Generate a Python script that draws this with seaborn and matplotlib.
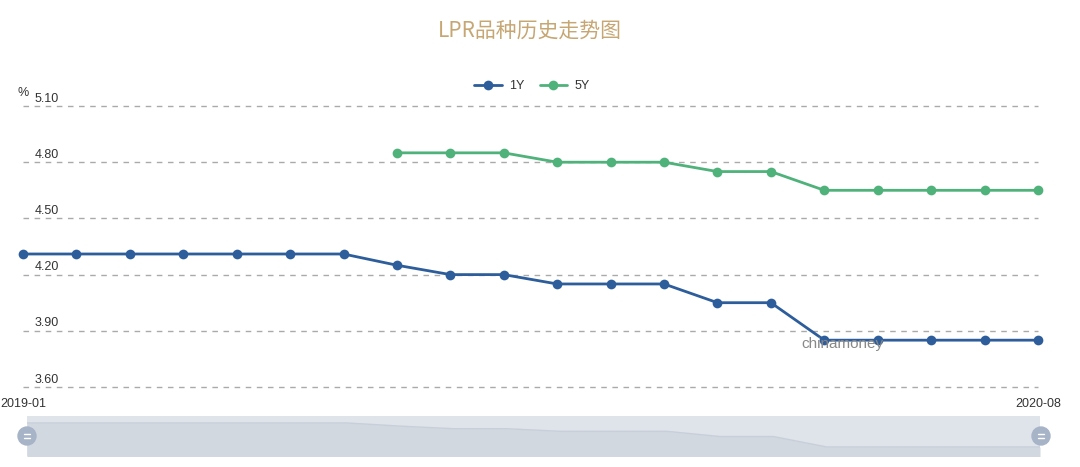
import numpy as np
import pandas as pd
import matplotlib
matplotlib.use("Agg")
import matplotlib.pyplot as plt
import seaborn as sns

# ---- data ----
months = ["2019-01", "2019-02", "2019-03", "2019-04", "2019-05", "2019-06", "2019-07",
          "2019-08", "2019-09", "2019-10", "2019-11", "2019-12", "2020-01", "2020-02",
          "2020-03", "2020-04", "2020-05", "2020-06", "2020-07", "2020-08"]
lpr_1y = [4.31, 4.31, 4.31, 4.31, 4.31, 4.31, 4.31, 4.25, 4.20, 4.20, 4.15, 4.15,
          4.15, 4.05, 4.05, 3.85, 3.85, 3.85, 3.85, 3.85]
lpr_5y = [np.nan] * 7 + [4.85, 4.85, 4.85, 4.80, 4.80, 4.80, 4.75, 4.75, 4.65,
                         4.65, 4.65, 4.65, 4.65]
series_names = ["1Y", "5Y"]
y_ticks = [3.60, 3.90, 4.20, 4.50, 4.80, 5.10]
x_tick_labels = ["2019-01", "2020-08"]
title = "LPR品种历史走势图"

sns.set_theme(style="white")
plt.rcParams["font.family"] = ["Noto Sans CJK SC", "DejaVu Sans"]
lab_font = ["Liberation Sans", "DejaVu Sans"]

c1 = "#2d5d9a"
c5 = "#4fb27a"

idx = np.arange(len(months))
df = pd.DataFrame({
    "x": np.concatenate([idx, idx]),
    "value": lpr_1y + lpr_5y,
    "series": [series_names[0]] * len(months) + [series_names[1]] * len(months),
}).dropna()

W, H = 1080, 467
fig = plt.figure(figsize=(W / 100, H / 100), dpi=100)

def px_axes(x0, y0, x1, y1):
    return fig.add_axes([x0 / W, 1 - y1 / H, (x1 - x0) / W, (y1 - y0) / H])

ax = px_axes(23, 106, 1038, 387)
sns.lineplot(data=df, x="x", y="value", hue="series", palette=[c1, c5],
             style="series", markers=["o", "o"], dashes=False, linewidth=2.0,
             markersize=7, markeredgewidth=0, ax=ax, legend=False, clip_on=False)
ax.set_xlim(0, len(months) - 1)
ax.set_ylim(y_ticks[0], y_ticks[-1])
for s in ax.spines.values():
    s.set_visible(False)
ax.set_xlabel("")
ax.set_ylabel("")
ax.set_xticks([])
ax.set_yticks([])
for yt in y_ticks:
    ax.axhline(yt, color="#aaaaaa", lw=1.0, ls=(0, (4, 4)), zorder=0, clip_on=False)
    ax.annotate(f"{yt:.2f}", xy=(0, yt), xycoords=("axes fraction", "data"),
                xytext=(8.5, 1), textcoords="offset points", fontsize=9,
                color="#333333", ha="left", va="bottom", family=lab_font)
ax.annotate("%", xy=(0, y_ticks[-1]), xycoords=("axes fraction", "data"),
            xytext=(-4, 5), textcoords="offset points", fontsize=9,
            color="#333333", ha="left", va="bottom", family=lab_font)
for lab in x_tick_labels:
    xi = months.index(lab)
    ax.annotate(lab, xy=(xi, y_ticks[0]), xycoords="data",
                xytext=(0, -8), textcoords="offset points", fontsize=9,
                color="#333333", ha="center", va="top", family=lab_font)

# watermark
ax.text(15.33, 3.83, "chinamoney", fontsize=11, color="#888888", ha="center",
        va="center", family=lab_font, zorder=5)

# title
fig.text(530 / W, 1 - 31 / H, title, fontsize=15, color="#c6a673",
         ha="center", va="center")

# legend
from matplotlib.lines import Line2D
handles = [Line2D([0], [0], color=c1, lw=2, marker="o", markersize=7, markeredgewidth=0),
           Line2D([0], [0], color=c5, lw=2, marker="o", markersize=7, markeredgewidth=0)]
leg = fig.legend(handles, series_names, loc="center", bbox_to_anchor=(532 / W, 1 - 86 / H),
                 ncol=2, frameon=False, fontsize=9, handlelength=2.2, columnspacing=1.2,
                 handletextpad=0.6)
for t in leg.get_texts():
    t.set_family(lab_font)
    t.set_color("#333333")

# data zoom slider
sax = px_axes(27, 416, 1040, 456)
sax.set_facecolor("#dfe3ea")
sns.lineplot(x=idx, y=lpr_1y, ax=sax, color="#c8cfd8", linewidth=1.0)
sax.fill_between(idx, lpr_1y, 3.0, color="#d1d8e0", lw=0)
sax.set_xlim(0, len(months) - 1)
sax.set_ylim(3.677, 4.444)
sax.set_xticks([])
sax.set_yticks([])
for s in sax.spines.values():
    s.set_visible(False)

hax = fig.add_axes([0, 0, 1, 1], facecolor="none")
hax.set_xlim(0, W)
hax.set_ylim(H, 0)
hax.axis("off")
for hx in (27, 1041):
    hax.add_patch(plt.Circle((hx, 436), 9, color="#a7b4c7", zorder=3))
    for dy in (-2, 2):
        hax.plot([hx - 3, hx + 3], [436 + dy, 436 + dy], color="white", lw=1.0, zorder=4)

fig.savefig("out.png", dpi=100)
